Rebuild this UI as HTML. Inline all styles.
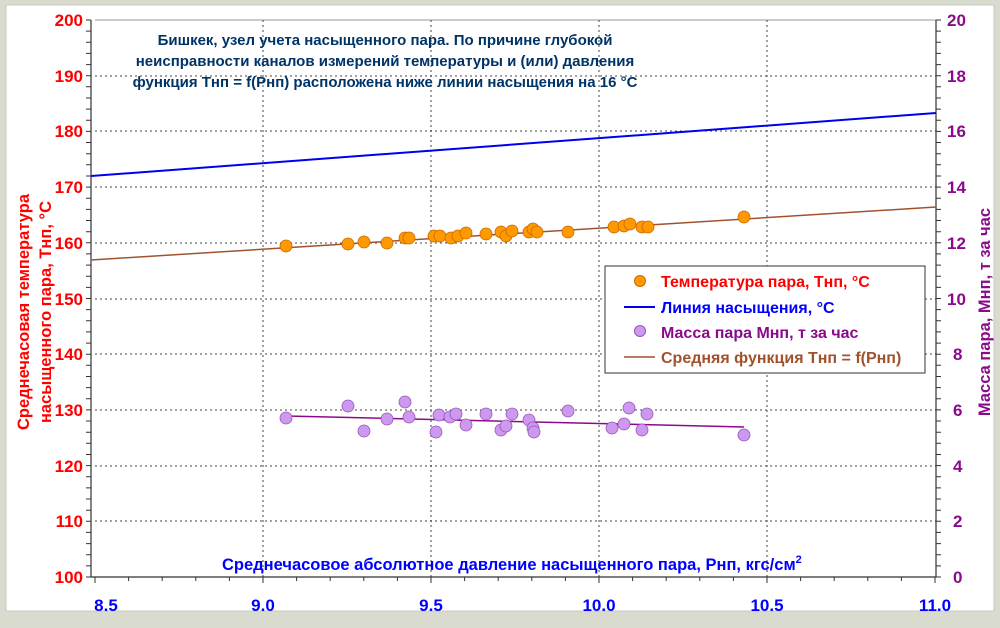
<!DOCTYPE html><html><head><meta charset="utf-8"><style>
body{margin:0;width:1000px;height:623px;background:#d9dbcf;font-family:"Liberation Sans",sans-serif;overflow:hidden}
</style></head><body>
<svg width="1000" height="623" xmlns="http://www.w3.org/2000/svg" font-family="Liberation Sans, sans-serif" font-weight="bold">
<rect x="0" y="0" width="1000" height="623" fill="#d9dbcf"/>
<rect x="6" y="5" width="988" height="606" fill="#fff" stroke="#c8c8c0"/>
<line x1="95" y1="20" x2="936" y2="20" stroke="#999" stroke-width="1"/>
<g stroke="#444" stroke-dasharray="2,3" stroke-width="1">
<line x1="263" y1="20" x2="263" y2="577"/><line x1="431" y1="20" x2="431" y2="577"/><line x1="599" y1="20" x2="599" y2="577"/><line x1="767" y1="20" x2="767" y2="577"/>
<line x1="95" y1="76" x2="936" y2="76"/><line x1="95" y1="131" x2="936" y2="131"/><line x1="95" y1="187" x2="936" y2="187"/><line x1="95" y1="243" x2="936" y2="243"/><line x1="95" y1="299" x2="936" y2="299"/><line x1="95" y1="354" x2="936" y2="354"/><line x1="95" y1="410" x2="936" y2="410"/><line x1="95" y1="466" x2="936" y2="466"/><line x1="95" y1="521" x2="936" y2="521"/>
</g>
<g stroke="#333" stroke-width="1.2">
<line x1="91" y1="20" x2="91" y2="577"/><line x1="936" y1="20" x2="936" y2="577"/><line x1="91" y1="577" x2="936" y2="577"/>
</g>
<path stroke="#333" stroke-width="1" fill="none" d="M86 20h5M86 31.1h5M86 42.3h5M86 53.4h5M86 64.6h5M86 75.7h5M86 86.8h5M86 98h5M86 109.1h5M86 120.3h5M86 131.4h5M86 142.5h5M86 153.7h5M86 164.8h5M86 176h5M86 187.1h5M86 198.2h5M86 209.4h5M86 220.5h5M86 231.7h5M86 242.8h5M86 253.9h5M86 265.1h5M86 276.2h5M86 287.4h5M86 298.5h5M86 309.6h5M86 320.8h5M86 331.9h5M86 343.1h5M86 354.2h5M86 365.3h5M86 376.5h5M86 387.6h5M86 398.8h5M86 409.9h5M86 421h5M86 432.2h5M86 443.3h5M86 454.5h5M86 465.6h5M86 476.7h5M86 487.9h5M86 499h5M86 510.2h5M86 521.3h5M86 532.4h5M86 543.6h5M86 554.7h5M86 565.9h5M86 577h5
M936 20h5M936 31.1h5M936 42.3h5M936 53.4h5M936 64.6h5M936 75.7h5M936 86.8h5M936 98h5M936 109.1h5M936 120.3h5M936 131.4h5M936 142.5h5M936 153.7h5M936 164.8h5M936 176h5M936 187.1h5M936 198.2h5M936 209.4h5M936 220.5h5M936 231.7h5M936 242.8h5M936 253.9h5M936 265.1h5M936 276.2h5M936 287.4h5M936 298.5h5M936 309.6h5M936 320.8h5M936 331.9h5M936 343.1h5M936 354.2h5M936 365.3h5M936 376.5h5M936 387.6h5M936 398.8h5M936 409.9h5M936 421h5M936 432.2h5M936 443.3h5M936 454.5h5M936 465.6h5M936 476.7h5M936 487.9h5M936 499h5M936 510.2h5M936 521.3h5M936 532.4h5M936 543.6h5M936 554.7h5M936 565.9h5M936 577h5
M95 577v6M128.6 577v4M162.2 577v4M195.8 577v4M229.4 577v4M263 577v6M296.6 577v4M330.2 577v4M363.8 577v4M397.4 577v4M431 577v6M464.6 577v4M498.2 577v4M531.8 577v4M565.4 577v4M599 577v6M632.6 577v4M666.2 577v4M699.8 577v4M733.4 577v4M767 577v6M800.6 577v4M834.2 577v4M867.8 577v4M901.4 577v4M935 577v6"/>
<g fill="#ff0000" font-size="17" text-anchor="end">
<text x="83" y="26">200</text><text x="83" y="82">190</text><text x="83" y="137">180</text><text x="83" y="193">170</text><text x="83" y="249">160</text><text x="83" y="305">150</text><text x="83" y="360">140</text><text x="83" y="416">130</text><text x="83" y="472">120</text><text x="83" y="527">110</text><text x="83" y="583">100</text>
</g>
<g fill="#8b0a8b" font-size="17" text-anchor="start">
<text x="947" y="26">20</text><text x="947" y="82">18</text><text x="947" y="137">16</text><text x="947" y="193">14</text><text x="947" y="249">12</text><text x="947" y="305">10</text><text x="953" y="360">8</text><text x="953" y="416">6</text><text x="953" y="472">4</text><text x="953" y="527">2</text><text x="953" y="583">0</text>
</g>
<g fill="#0000ff" font-size="17" text-anchor="middle">
<text x="106" y="611">8.5</text><text x="263" y="611">9.0</text><text x="431" y="611">9.5</text><text x="599" y="611">10.0</text><text x="767" y="611">10.5</text><text x="935" y="611">11.0</text>
</g>
<text x="222" y="570" fill="#0000ff" font-size="16.5">Среднечасовое абсолютное давление насыщенного пара, Рнп, кгс/см<tspan dy="-7" font-size="11">2</tspan></text>
<g fill="#ff0000" font-size="16.5" text-anchor="middle">
<text transform="translate(29,312) rotate(-90)">Среднечасовая температура</text>
<text transform="translate(51,312) rotate(-90)">насыщенного пара, Тнп, °С</text>
</g>
<text transform="translate(990,312) rotate(-90)" fill="#8b0a8b" font-size="16.5" text-anchor="middle">Масса пара, Мнп, т за час</text>
<g fill="#003366" font-size="15" text-anchor="middle">
<text x="385" y="45">Бишкек, узел учета насыщенного пара. По причине глубокой</text>
<text x="385" y="66">неисправности каналов измерений температуры и (или) давления</text>
<text x="385" y="87">функция Тнп = f(Рнп) расположена ниже линии насыщения на 16 °С</text>
</g>
<line x1="91" y1="176" x2="936" y2="113" stroke="#0000ee" stroke-width="2"/>
<line x1="91" y1="260" x2="936" y2="207" stroke="#a0522d" stroke-width="1.5"/>
<line x1="286" y1="416" x2="744" y2="427" stroke="#8b0a8b" stroke-width="1.5"/>
<g fill="#ff9900" stroke="#cc6600" stroke-width="0.8">
<circle cx="286" cy="246" r="6"/><circle cx="348" cy="244" r="6"/><circle cx="364" cy="242" r="6"/><circle cx="387" cy="243" r="6"/><circle cx="405" cy="238" r="6"/><circle cx="409" cy="238" r="6"/><circle cx="434" cy="236" r="6"/><circle cx="440" cy="236" r="6"/><circle cx="451" cy="238" r="6"/><circle cx="458" cy="236" r="6"/><circle cx="466" cy="233" r="6"/><circle cx="486" cy="234" r="6"/><circle cx="501" cy="232" r="6"/><circle cx="506" cy="236" r="6"/><circle cx="512" cy="231" r="6"/><circle cx="529" cy="232" r="6"/><circle cx="533" cy="229" r="6"/><circle cx="537" cy="232" r="6"/><circle cx="568" cy="232" r="6"/><circle cx="614" cy="227" r="6"/><circle cx="624" cy="226" r="6"/><circle cx="630" cy="224" r="6"/><circle cx="642" cy="227" r="6"/><circle cx="648" cy="227" r="6"/><circle cx="744" cy="217" r="6"/>
</g>
<g fill="#cc99ee" stroke="#9955bb" stroke-width="0.8">
<circle cx="286" cy="418" r="6"/><circle cx="348" cy="406" r="6"/><circle cx="364" cy="431" r="6"/><circle cx="387" cy="419" r="6"/><circle cx="405" cy="402" r="6"/><circle cx="409" cy="417" r="6"/><circle cx="436" cy="432" r="6"/><circle cx="439" cy="415" r="6"/><circle cx="450" cy="417" r="6"/><circle cx="456" cy="414" r="6"/><circle cx="466" cy="425" r="6"/><circle cx="486" cy="414" r="6"/><circle cx="501" cy="430" r="6"/><circle cx="506" cy="426" r="6"/><circle cx="512" cy="414" r="6"/><circle cx="529" cy="420" r="6"/><circle cx="533" cy="428" r="6"/><circle cx="534" cy="432" r="6"/><circle cx="568" cy="411" r="6"/><circle cx="612" cy="428" r="6"/><circle cx="624" cy="424" r="6"/><circle cx="629" cy="408" r="6"/><circle cx="642" cy="430" r="6"/><circle cx="647" cy="414" r="6"/><circle cx="744" cy="435" r="6"/>
</g>
<rect x="605" y="266" width="320" height="107" fill="#fff" stroke="#333"/>
<circle cx="640" cy="281" r="5.5" fill="#ff9900" stroke="#cc6600"/>
<line x1="624" y1="307" x2="655" y2="307" stroke="#0000ee" stroke-width="2"/>
<circle cx="640" cy="331" r="5.5" fill="#cc99ee" stroke="#9955bb"/>
<line x1="624" y1="357" x2="655" y2="357" stroke="#a0522d" stroke-width="1.5"/>
<g font-size="16">
<text x="661" y="287" fill="#ff0000">Температура пара, Тнп, °С</text>
<text x="661" y="313" fill="#0000ff">Линия насыщения, °С</text>
<text x="661" y="338" fill="#8b0a8b">Масса пара Мнп, т за час</text>
<text x="661" y="363" fill="#a0522d">Средняя функция Тнп = f(Рнп)</text>
</g>
</svg>
</body></html>
